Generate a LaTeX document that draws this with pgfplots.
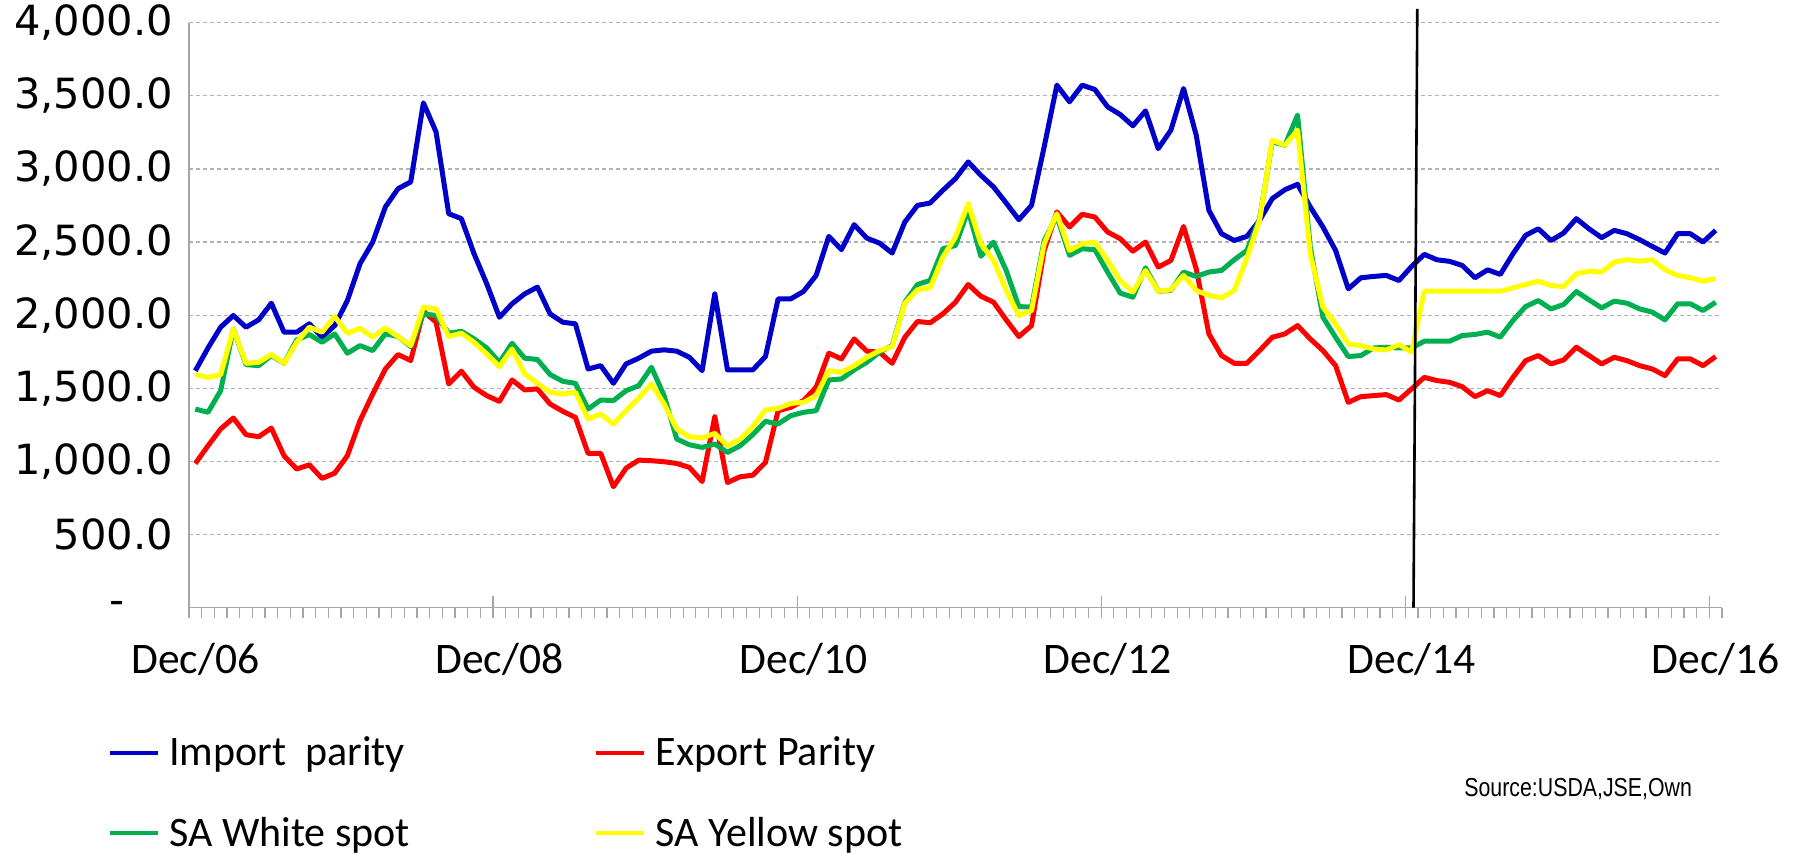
\documentclass[border=0pt]{standalone}
\usepackage{fontspec}
\setmainfont{Carlito}
\newfontfamily\yfont{DejaVu Sans}
\newfontfamily\srcfont[FakeStretch=0.82]{Liberation Sans}
\usepackage{pgfplots}
\usepackage{pgfplotstable}
\pgfplotsset{compat=1.18}
\definecolor{cblue}{HTML}{0000C8}
\definecolor{cred}{HTML}{FF0000}
\definecolor{cgreen}{HTML}{00B050}
\definecolor{cyellow}{HTML}{FFFF00}

\pgfplotstableread{
m imp exp wht yel
0 1620 986 1358 1594
1 1776 1107 1336 1575
2 1918 1222 1484 1594
3 1998 1297 1906 1906
4 1918 1183 1662 1671
5 1968 1169 1655 1678
6 2082 1228 1724 1731
7 1884 1039 1671 1671
8 1884 948 1831 1815
9 1941 977 1868 1918
10 1850 884 1815 1884
11 1929 920 1872 1991
12 2100 1039 1740 1877
13 2352 1279 1792 1911
14 2500 1461 1758 1850
15 2740 1632 1872 1913
16 2865 1731 1854 1854
17 2911 1690 1785 1792
18 3452 2027 2009 2055
19 3253 1952 1998 2043
20 2694 1530 1877 1854
21 2660 1617 1890 1877
22 2420 1507 1838 1815
23 2215 1450 1776 1735
24 1986 1411 1678 1648
25 2078 1557 1808 1769
26 2146 1489 1706 1598
27 2192 1496 1697 1534
28 2009 1393 1594 1473
29 1952 1343 1548 1461
30 1941 1301 1534 1473
31 1632 1055 1358 1290
32 1655 1055 1420 1324
33 1534 827 1416 1256
34 1667 954 1484 1347
35 1706 1009 1518 1434
36 1754 1005 1644 1530
37 1763 998 1450 1393
38 1754 986 1153 1222
39 1712 959 1114 1169
40 1621 863 1096 1160
41 2146 1306 1119 1192
42 1626 856 1062 1107
43 1626 895 1107 1153
44 1626 906 1183 1238
45 1717 993 1274 1352
46 2112 1347 1256 1363
47 2112 1370 1313 1397
48 2162 1416 1336 1404
49 2272 1507 1347 1450
50 2539 1740 1557 1621
51 2448 1701 1564 1610
52 2619 1838 1626 1655
53 2527 1754 1678 1712
54 2493 1747 1747 1758
55 2425 1671 1792 1785
56 2637 1849 2089 2082
57 2751 1957 2210 2174
58 2767 1948 2238 2187
59 2854 2009 2454 2397
60 2934 2089 2477 2534
61 3048 2210 2717 2763
62 2957 2130 2403 2490
63 2877 2089 2500 2374
64 2767 1968 2306 2169
65 2653 1854 2059 1998
66 2751 1929 2055 2032
67 3151 2443 2511 2489
68 3573 2706 2676 2694
69 3459 2603 2409 2443
70 3573 2690 2454 2489
71 3543 2671 2448 2500
72 3425 2569 2295 2374
73 3372 2523 2151 2237
74 3295 2438 2123 2158
75 3397 2500 2324 2306
76 3139 2329 2164 2164
77 3265 2374 2169 2174
78 3550 2607 2295 2272
79 3231 2317 2265 2169
80 2717 1872 2295 2135
81 2557 1724 2306 2119
82 2511 1671 2379 2169
83 2539 1671 2443 2390
84 2648 1758 2660 2650
85 2797 1849 3185 3196
86 2858 1872 3162 3162
87 2895 1929 3368 3265
88 2740 1838 2466 2420
89 2603 1758 1986 2055
90 2443 1655 1849 1941
91 2180 1404 1717 1804
92 2256 1443 1724 1792
93 2265 1450 1776 1769
94 2272 1457 1781 1762
95 2237 1420 1776 1799
96 2333 1496 1776 1747
97 2416 1575 1822 2164
98 2379 1553 1822 2164
99 2368 1541 1822 2164
100 2340 1511 1861 2164
101 2256 1443 1868 2164
102 2310 1484 1884 2164
103 2279 1450 1850 2164
104 2420 1575 1964 2187
105 2546 1689 2059 2210
106 2591 1724 2100 2233
107 2511 1667 2043 2203
108 2562 1694 2073 2196
109 2660 1781 2162 2283
110 2591 1724 2105 2301
111 2530 1667 2050 2295
112 2580 1712 2096 2363
113 2557 1689 2082 2379
114 2516 1655 2043 2370
115 2470 1632 2021 2379
116 2425 1587 1968 2310
117 2557 1701 2078 2272
118 2557 1701 2078 2256
119 2500 1655 2032 2233
120 2580 1717 2089 2249
}\data

\begin{document}
\begin{tikzpicture}
\useasboundingbox (-94.5pt,-123.15pt) rectangle (802pt,303.85pt);
\begin{axis}[
  scale only axis, width=766.5pt, height=292.5pt,
  at={(0,0)}, anchor=south west,
  xmin=-0.5, xmax=120.5, ymin=0, ymax=4000,
  clip=false,
  axis lines*=left,
  axis line style={draw=gray!70, line width=0.8pt},
  xtick={-0.5,23.5,47.5,71.5,95.5,119.5},
  xticklabels={Dec/06,Dec/08,Dec/10,Dec/12,Dec/14,Dec/16},
  minor xtick={-0.5,0.5,...,120.5},
  tick align=outside, major tick length=11pt, minor tick length=5pt,
  every major x tick/.append style={yshift=6pt, draw=gray!70, line width=0.6pt},
  every minor x tick/.append style={draw=gray!70, line width=0.6pt},
  ytick={0,500,...,4000},
  yticklabels={{-\kern24pt},{500.0},{1,000.0},{1,500.0},{2,000.0},{2,500.0},{3,000.0},{3,500.0},{4,000.0}},
  every y tick/.append style={draw=none},
  ymajorgrids,
  major grid style={gray!60, dash pattern=on 2pt off 1.5pt, line width=0.6pt},
  xticklabel style={font=\fontsize{21.8}{25}\selectfont, inner sep=0pt, anchor=north, xshift=3.17pt, yshift=-6.5pt},
  yticklabel style={font=\yfont\fontsize{20.8}{24}\selectfont, inner sep=0pt, anchor=east, xshift=3.2pt},
  legend columns=2,
  legend cell align=left,
  legend image code/.code={\draw[#1, line width=2.2pt] (0pt,0pt) -- (24pt,0pt);},
  legend style={draw=none, fill=none, at={(0,0)}, anchor=north west,
    xshift=-44pt, yshift=-60.5pt, font=\fontsize{21}{25}\selectfont,
    row sep=20pt, nodes={inner sep=2pt},
    /tikz/every odd column/.append style={column sep=2.8pt},
    /tikz/every even column/.append style={column sep=90pt}},
]
\addplot[cblue, line width=2.5pt, line join=round] table[x=m, y=imp] {\data};
\addlegendentry{Import~\ parity}
\addplot[cred, line width=2.5pt, line join=round] table[x=m, y=exp] {\data};
\addlegendentry{Export Parity}
\addplot[cgreen, line width=2.5pt, line join=round] table[x=m, y=wht] {\data};
\addlegendentry{SA White spot}
\addplot[cyellow, line width=2.5pt, line join=round] table[x=m, y=yel] {\data};
\addlegendentry{SA Yellow spot}
\addplot[black, line width=1.3pt, forget plot] coordinates {(96.15,0) (96.45,4095)};
\end{axis}
\node[anchor=west, inner sep=0pt, font=\srcfont\fontsize{13}{15}\selectfont] at (637.5pt,-90.65pt) {Source:USDA,JSE,Own};
\end{tikzpicture}
\end{document}
